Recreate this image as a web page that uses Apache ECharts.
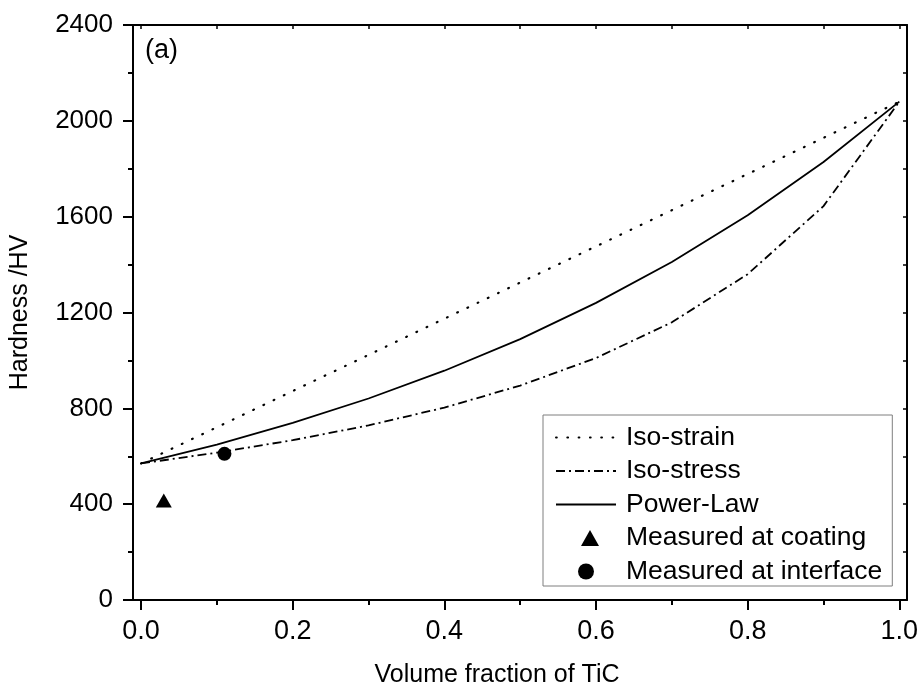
<!DOCTYPE html>
<html>
<head>
<meta charset="utf-8">
<script src="https://cdn.jsdelivr.net/npm/echarts@6/dist/echarts.min.js"></script>
<style>
  html, body { margin: 0; padding: 0; background: #fff; }
  #chart { width: 923px; height: 695px; }
</style>
</head>
<body>
<div id="chart"></div>
<script>
// Hardness of the TiC composite vs. volume fraction of TiC, three mixing rules
const fraction   = [0.0, 0.1, 0.2, 0.3, 0.4, 0.5, 0.6, 0.7, 0.8, 0.9, 1.0];
const isoStrain  = [570, 721, 872, 1023, 1174, 1325, 1476, 1627, 1778, 1929, 2080];
const isoStress  = [570, 615, 667, 729, 803, 895, 1010, 1159, 1360, 1644, 2080];
const powerLaw   = [570, 649, 739, 841, 957, 1089, 1240, 1411, 1606, 1828, 2080];
const measuredCoating   = [[0.03, 415]];
const measuredInterface = [[0.11, 610]];

const xMajorTicks = [0.0, 0.2, 0.4, 0.6, 0.8, 1.0];
const xMinorTicks = [0.1, 0.3, 0.5, 0.7, 0.9];
const xAllTicks   = [0.0, 0.1, 0.2, 0.3, 0.4, 0.5, 0.6, 0.7, 0.8, 0.9, 1.0];
const seriesNames = ['Iso-strain', 'Iso-stress', 'Power-Law', 'Measured at coating', 'Measured at interface'];

const FONT = 'Liberation Sans, Arial, sans-serif';
const X_MIN = -0.0106, X_MAX = 1.0101;
const pair = (xs, ys) => xs.map((x, i) => [x, ys[i]]);
const frameLine = { show: true, onZero: false, lineStyle: { color: '#000', width: 2 } };
const noLine = { show: false, onZero: false };
// legend swatch for the triangle: a small filled triangle inside a 60x16 box
const triangleIcon = 'path://M0,8M60,8M25,16L34,0L43,16Z';
const hiddenMarker = { opacity: 0 };

const chart = echarts.init(document.getElementById('chart'), null, { renderer: 'canvas' });

chart.setOption({
  animation: false,
  backgroundColor: '#fff',
  grid: { left: 133, right: 16, top: 25, bottom: 95, containLabel: false },
  xAxis: [
    { // bottom axis: major ticks + labels
      type: 'value', min: X_MIN, max: X_MAX, position: 'bottom',
      axisLine: frameLine,
      axisTick: { show: true, customValues: xMajorTicks, length: 10, inside: false,
                  lineStyle: { color: '#000', width: 2 } },
      axisLabel: { show: true, customValues: xMajorTicks, margin: 18,
                   formatter: v => v.toFixed(1),
                   fontFamily: FONT, fontSize: 27, color: '#000' },
      splitLine: { show: false },
      name: 'Volume fraction of TiC', nameLocation: 'middle', nameGap: 63,
      nameTextStyle: { fontFamily: FONT, fontSize: 25, color: '#000', padding: [0, 46, 0, 0] }
    },
    { // bottom axis: minor ticks
      type: 'value', min: X_MIN, max: X_MAX, position: 'bottom',
      axisLine: noLine,
      axisTick: { show: true, customValues: xMinorTicks, length: 5, inside: false,
                  lineStyle: { color: '#000', width: 2 } },
      axisLabel: { show: false }, splitLine: { show: false }
    },
    { // top frame with inward ticks
      type: 'value', min: X_MIN, max: X_MAX, position: 'top',
      axisLine: frameLine,
      axisTick: { show: true, customValues: xAllTicks, length: 4, inside: true,
                  lineStyle: { color: '#000', width: 1.5 } },
      axisLabel: { show: false }, splitLine: { show: false }
    }
  ],
  yAxis: [
    { // left axis: major ticks + labels
      type: 'value', min: 0, max: 2400, interval: 400, position: 'left',
      axisLine: frameLine,
      axisTick: { show: true, length: 10, inside: false, lineStyle: { color: '#000', width: 2 } },
      axisLabel: { show: true, margin: 20, formatter: v => String(v),
                   fontFamily: FONT, fontSize: 26, color: '#000' },
      splitLine: { show: false },
      name: 'Hardness /HV', nameLocation: 'middle', nameGap: 100, nameRotate: 90,
      nameTextStyle: { fontFamily: FONT, fontSize: 25, color: '#000' }
    },
    { // left axis: minor ticks
      type: 'value', min: 0, max: 2400, interval: 200, position: 'left',
      axisLine: noLine,
      axisTick: { show: true, length: 5, inside: false, lineStyle: { color: '#000', width: 2 } },
      axisLabel: { show: false }, splitLine: { show: false }
    },
    { // right frame with inward ticks
      type: 'value', min: 0, max: 2400, interval: 200, position: 'right',
      axisLine: frameLine,
      axisTick: { show: true, length: 4, inside: true, lineStyle: { color: '#000', width: 1.5 } },
      axisLabel: { show: false }, splitLine: { show: false }
    }
  ],
  legend: {
    orient: 'vertical', left: 543, top: 415,
    padding: [9, 10, 1, 12], itemGap: 6.5,
    itemWidth: 60, itemHeight: 16, symbolKeepAspect: true,
    backgroundColor: '#fff', borderColor: '#7f7f7f', borderWidth: 1, borderRadius: 0,
    textStyle: { fontFamily: FONT, fontSize: 26.5, color: '#000', padding: [0, 0, 0, 5] },
    data: [
      { name: seriesNames[0], itemStyle: hiddenMarker },
      { name: seriesNames[1], itemStyle: hiddenMarker },
      { name: seriesNames[2], itemStyle: hiddenMarker },
      { name: seriesNames[3], icon: triangleIcon },
      { name: seriesNames[4], icon: 'circle' }
    ]
  },
  graphic: [
    { type: 'text', left: 145, top: 37,
      style: { text: '(a)', fontFamily: FONT, fontSize: 27, fill: '#000' } }
  ],
  series: [
    { name: seriesNames[0], type: 'line', xAxisIndex: 0, yAxisIndex: 0,
      data: pair(fraction, isoStrain), symbol: 'none', showSymbol: false,
      lineStyle: { color: '#000', width: 2.2, type: [0.8, 10.5], cap: 'round' },
      itemStyle: { color: '#000' } },
    { name: seriesNames[1], type: 'line', xAxisIndex: 0, yAxisIndex: 0,
      data: pair(fraction, isoStress), symbol: 'none', showSymbol: false,
      lineStyle: { color: '#000', width: 1.8, type: [9, 4, 2, 4] },
      itemStyle: { color: '#000' } },
    { name: seriesNames[2], type: 'line', xAxisIndex: 0, yAxisIndex: 0,
      data: pair(fraction, powerLaw), symbol: 'none', showSymbol: false,
      lineStyle: { color: '#000', width: 1.8, type: 'solid' },
      itemStyle: { color: '#000' } },
    { name: seriesNames[3], type: 'scatter', xAxisIndex: 0, yAxisIndex: 0,
      data: measuredCoating, symbol: 'triangle', symbolSize: [16, 14],
      itemStyle: { color: '#000', opacity: 1 } },
    { name: seriesNames[4], type: 'scatter', xAxisIndex: 0, yAxisIndex: 0,
      data: measuredInterface, symbol: 'circle', symbolSize: 14,
      itemStyle: { color: '#000', opacity: 1 }, z: 3 }
  ]
});
</script>
</body>
</html>
